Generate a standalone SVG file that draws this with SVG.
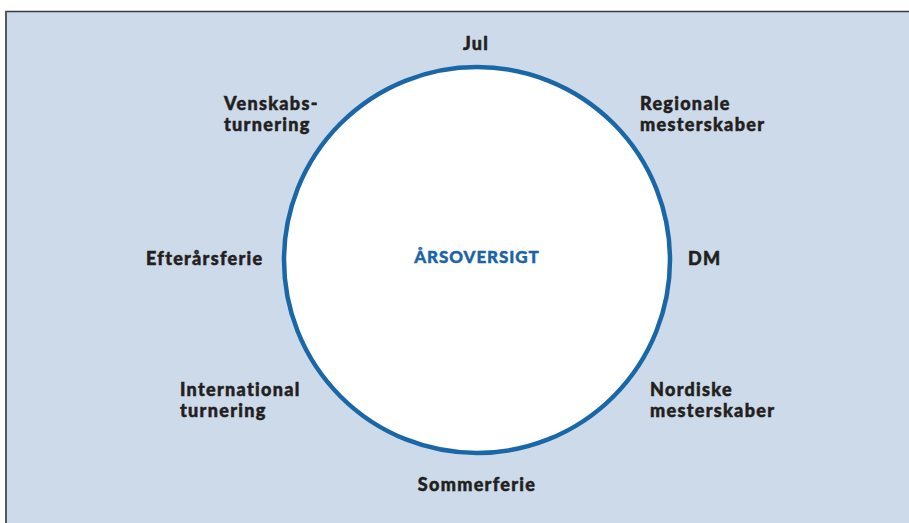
<svg xmlns="http://www.w3.org/2000/svg" width="909" height="523" viewBox="0 0 909 523">
<style>
.lbl{font-family:Lato,"Open Sans","Liberation Sans",sans-serif;font-weight:900;font-size:18px;fill:#231f20;stroke:#231f20;stroke-width:0.5px;letter-spacing:1.3px}
.title{font-family:Lato,"Open Sans","Liberation Sans",sans-serif;font-weight:900;font-size:17px;fill:#1a64a6;stroke:#1a64a6;stroke-width:0.4px;letter-spacing:0.9px}
</style>
<rect x="0" y="0" width="909" height="523" fill="#ffffff"/>
<rect x="6" y="12" width="903" height="511" fill="#cddaea"/>
<line x1="5" y1="11.5" x2="909" y2="11.5" stroke="#3a3a40" stroke-width="1.5"/>
<line x1="6" y1="11" x2="6" y2="523" stroke="#55565a" stroke-width="2"/>
<g id="center">
<circle cx="477" cy="260" r="193" fill="#ffffff" stroke="#1a67a8" stroke-width="4.5"/>
<text class="title" x="477" y="263" text-anchor="middle">ÅRSOVERSIGT</text>
</g>
<g id="jul"><text class="lbl" x="476" y="50" text-anchor="middle">Jul</text></g>
<g id="regionale"><text class="lbl" x="640" y="110">Regionale</text><text class="lbl" x="640" y="131">mesterskaber</text></g>
<g id="dm"><text class="lbl" x="688" y="265">DM</text></g>
<g id="nordiske"><text class="lbl" x="650" y="396">Nordiske</text><text class="lbl" x="650" y="417">mesterskaber</text></g>
<g id="sommerferie"><text class="lbl" x="477" y="491" text-anchor="middle">Sommerferie</text></g>
<g id="international"><text class="lbl" x="180" y="396">International</text><text class="lbl" x="180" y="417">turnering</text></g>
<g id="efteraarsferie"><text class="lbl" x="146" y="265">Efterårsferie</text></g>
<g id="venskabs"><text class="lbl" x="224" y="110">Venskabs-</text><text class="lbl" x="224" y="131">turnering</text></g>
<g id="connectors"></g>
</svg>
